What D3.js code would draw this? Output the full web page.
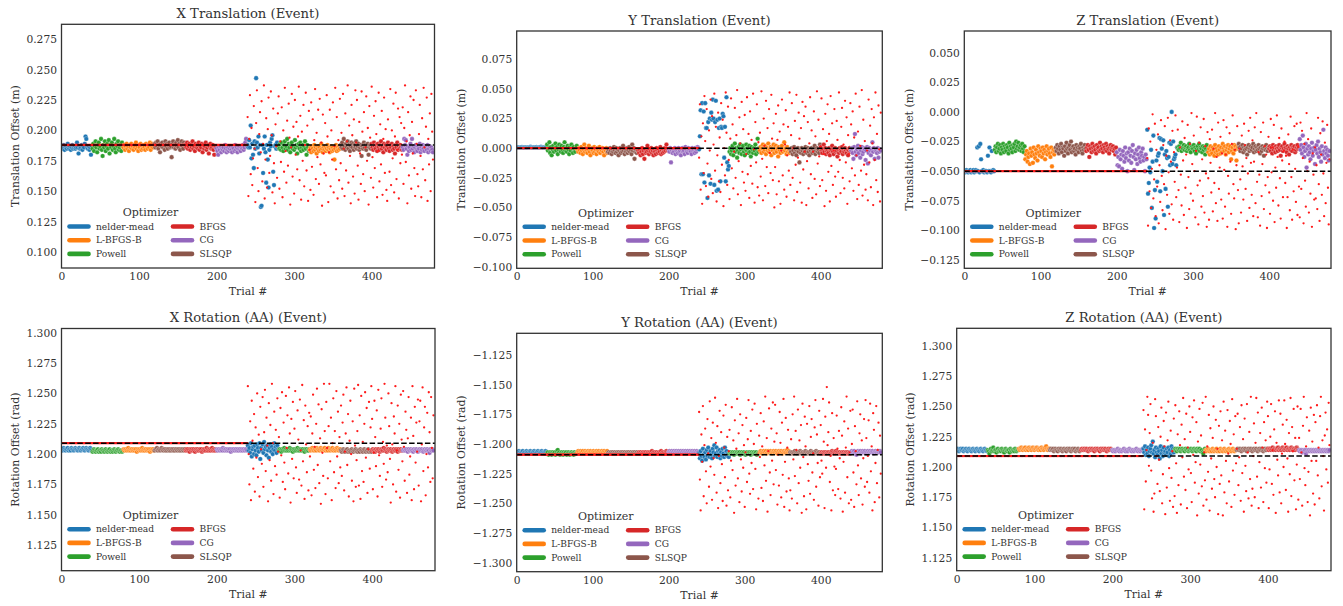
<!DOCTYPE html>
<html>
<head>
<meta charset="utf-8">
<script src="https://cdn.jsdelivr.net/npm/d3@7"></script>
<style>
  body { margin: 0; background: #fff; }
  svg { display: block; }
  text { font-family: "DejaVu Serif", serif; fill: #333; }
</style>
</head>
<body>
<svg id="chart" width="1343" height="606"></svg>
<script>
// Each optimizer runs a block of 40 trials; the sequence repeats twice (480 trials).
const runOrder = ["nelder-mead", "Powell", "L-BFGS-B", "SLSQP", "BFGS", "CG"];
const legendOrder = ["nelder-mead", "L-BFGS-B", "Powell", "BFGS", "CG", "SLSQP"];
const optimizerColor = {
  "nelder-mead": "#1f77b4", "L-BFGS-B": "#ff7f0e", "Powell": "#2ca02c",
  "BFGS": "#d62728", "CG": "#9467bd", "SLSQP": "#8c564b"
};
const trialRange = [0, 481];
const xTicks = [0, 100, 200, 300, 400];

// Tick labels per panel (m or rad)
const xTransTicks = [0.100, 0.125, 0.150, 0.175, 0.200, 0.225, 0.250, 0.275];
const yTransTicks = [-0.100, -0.075, -0.050, -0.025, 0.000, 0.025, 0.050, 0.075];
const zTransTicks = [-0.125, -0.100, -0.075, -0.050, -0.025, 0.000, 0.025, 0.050];
const xRotTicks = [1.125, 1.150, 1.175, 1.200, 1.225, 1.250, 1.275, 1.300];
const yRotTicks = [-1.300, -1.275, -1.250, -1.225, -1.200, -1.175, -1.150, -1.125];
const zRotTicks = [1.125, 1.150, 1.175, 1.200, 1.225, 1.250, 1.275, 1.300];

// Reference offsets (mm / mrad) used for trials 0-239 and drawn as the dashed line
const xTransRef = 188, yTransRef = 0, zTransRef = -50;
const xRotRef = 1209, yRotRef = -1209, zRotRef = 1209;

// Recovered offsets, one row per optimizer run (mm for translation, mrad for rotation)
const xTransFit = [
  [187,185,186,188,184,186,187,185,189,186,185,187,184,186,188,185,186,187,185,186,190,186,181,187,185,186,188,184,187,186,189,195,193,186,185,187,184,186,180,187],
  [185,189,183,187,191,186,182,188,190,185,187,193,184,179,188,186,191,183,187,189,185,192,181,188,186,190,184,187,193,185,182,189,187,191,184,186,188,183,190,187],
  [186,188,184,187,189,185,187,183,188,186,189,185,187,184,188,186,190,185,187,183,188,186,189,184,187,185,188,186,184,189,187,185,188,186,190,184,187,189,186,188],
  [189,186,190,187,191,185,188,182,189,187,190,186,188,184,191,187,189,185,188,190,186,187,178,189,191,186,188,185,190,187,192,186,189,184,188,191,187,185,190,188],
  [188,186,190,185,187,189,184,188,186,191,185,187,183,189,186,188,185,190,184,187,186,189,182,188,185,187,190,184,186,188,181,187,189,185,186,188,184,180,187,186],
  [185,183,180,186,184,187,182,185,184,186,183,188,185,182,184,186,183,185,187,184,182,186,185,183,188,184,186,182,185,187,184,183,186,185,188,184,186,190,193,187],
  [188,186,192,186,204,177,189,180,169,191,185,243,190,186,195,181,188,137,138,188,165,185,195,182,157,188,176,153,184,190,187,193,196,166,155,187,188,185,190,186],
  [187,185,189,184,190,186,183,188,191,185,187,193,184,189,186,182,188,190,185,187,184,192,186,188,181,187,189,185,190,183,186,188,184,187,191,185,180,188,186,183],
  [184,186,182,187,185,183,188,184,186,181,185,187,183,186,184,189,185,182,186,184,187,183,185,188,184,186,182,185,187,183,186,184,176,185,188,183,186,184,187,185],
  [188,186,190,185,193,187,184,189,186,191,185,188,183,187,190,186,189,184,188,186,191,185,187,189,184,186,188,179,187,185,190,186,188,184,187,189,180,186,188,185],
  [189,186,184,190,187,185,188,183,189,186,184,188,191,185,187,182,189,186,188,184,187,190,185,183,188,186,189,184,187,185,181,188,186,190,184,187,185,188,186,184],
  [186,184,193,188,192,185,180,187,183,186,189,184,193,185,187,182,186,188,184,183,187,185,189,182,186,184,188,185,183,187,186,184,188,182,185,187,183,186,184,182]
];
const yTransFit = [
  [0.5,0.7,0.6,0.8,0.5,0.6,0.7,0.9,0.6,0.5,0.7,0.8,0.6,0.7,0.5,0.6,0.8,0.7,1.2,0.9,0.6,0.7,0.5,0.8,0.6,0.7,0.9,0.6,0.5,0.7,0.8,0.6,1.1,0.7,0.6,0.5,0.8,0.7,0.6,0.9],
  [3,-2,0,5,-4,1,-6,-1,2,-3,0,4,-2,1,-5,-1,3,0,-3,2,-1,-4,1,5,-2,0,-3,2,-1,-5,1,-2,3,0,-4,1,-1,-3,0,2],
  [-1,-3,0,-2,-4,1,-2,-5,-1,3,-3,0,-2,-4,-1,2,-3,-6,-1,0,-2,-4,1,-3,-1,-5,0,-2,-3,1,-4,-1,-2,0,-3,-6,-1,-2,0,-4],
  [-3,-1,-4,0,-2,-5,-1,-3,1,-2,-4,0,-3,-1,-6,-2,0,-4,-1,-3,2,-2,-5,-1,-3,0,-4,-2,1,-3,-1,-5,3,-2,0,-9,-3,-1,-4,-2],
  [-2,-4,-1,-6,-3,0,-5,-2,-9,-1,-4,-3,2,-2,-5,-1,-3,0,-4,-2,-6,-1,-3,-5,0,-2,-4,-1,-3,1,-5,-2,-4,-1,-3,0,-2,3,-1,-2],
  [-1,-3,0,-12,-2,-4,-1,-3,0,-5,-2,-1,-4,0,-3,-2,-6,-1,0,-3,-2,-5,1,-1,-3,-4,0,-2,-1,-3,-5,0,-2,-1,-4,0,-3,-1,1,0],
  [-1,10,32,-22,38,-22,31,-29,38,17,17,-42,22,-23,25,-30,30,24,41,25,-31,22,40,-36,24,-35,17,25,-28,18,17,29,27,-8,18,-28,43,-12,-18,-15],
  [-3,0,-5,-2,2,-6,-1,4,-3,0,-8,-2,1,-4,3,-1,-5,0,2,-3,-6,-1,3,-2,0,-4,2,-3,-7,1,-1,-4,0,-2,3,-5,-1,8,-3,0],
  [-2,1,-4,0,3,-3,-1,2,-5,0,-2,4,-3,-1,1,-6,0,-2,3,-4,-1,2,-3,0,-7,1,-2,-4,0,2,-3,-1,5,-2,0,-5,1,-3,-1,-4],
  [-1,-3,0,-5,-2,1,-4,-1,-6,-2,0,-3,-12,-1,-4,0,-2,-5,-1,-3,1,-2,-4,0,-3,-6,-1,-2,0,-4,-1,-3,2,-5,-2,0,-3,-1,-4,3],
  [1,-2,-4,-1,3,-3,0,-5,-2,-1,-4,0,-6,-2,-1,2,-3,-5,-1,0,-3,-2,-7,-1,-4,0,-2,-3,1,-5,-1,-3,0,-2,-4,-1,-6,-2,0,-3],
  [-2,0,-4,-9,1,12,-3,-6,-1,2,-4,0,-8,-2,1,-5,-3,0,-1,-10,-2,1,-13,-4,0,-2,-6,-1,5,-3,0,-9,-2,-1,-4,0,-8,-3,-1,-2]
];
const zTransFit = [
  [-50,-51,-50,-49,-50,-51,-50,-50,-49,-51,-50,-50,-49,-51,-50,-49,-50,-30,-50,-29,-51,-27,-40,-50,-50,-49,-51,-50,-50,-50,-51,-37,-50,-30,-50,-51,-33,-50,-49,-50],
  [-32,-29,-34,-30,-27,-33,-31,-28,-35,-30,-32,-27,-34,-29,-31,-33,-28,-30,-35,-26,-32,-29,-31,-34,-28,-30,-27,-33,-25,-31,-29,-26,-32,-30,-28,-33,-27,-31,-34,-29],
  [-40,-36,-33,-42,-38,-35,-44,-31,-37,-34,-43,-30,-36,-39,-32,-35,-41,-29,-34,-37,-31,-33,-38,-30,-35,-32,-40,-34,-29,-36,-33,-31,-35,-38,-30,-46,-34,-32,-36,-33],
  [-30,-33,-28,-31,-35,-29,-32,-27,-34,-30,-31,-37,-29,-33,-26,-31,-35,-30,-28,-32,-25,-34,-30,-29,-33,-31,-36,-28,-32,-30,-34,-29,-31,-27,-33,-35,-30,-32,-28,-31],
  [-33,-30,-28,-32,-38,-29,-31,-34,-27,-30,-33,-29,-32,-35,-28,-31,-30,-33,-26,-32,-29,-31,-34,-28,-30,-32,-27,-33,-29,-31,-35,-30,-28,-32,-30,-29,-33,-31,-36,-30],
  [-34,-45,-38,-46,-32,-40,-36,-48,-33,-37,-42,-30,-39,-35,-50,-34,-41,-31,-37,-43,-33,-28,-38,-49,-35,-40,-32,-44,-36,-30,-39,-42,-34,-37,-31,-41,-38,-50,-36,-40],
  [-15,-69,-60,-47,-51,-32,-81,-42,-20,-98,-66,-90,-41,-59,-37,-35,-22,-67,-23,-31,-50,-24,-87,-36,-65,-33,-39,-80,-38,-26,-45,-27,0,-44,-25,-40,-38,-36,-45,-30],
  [-30,-32,-29,-31,-26,-33,-30,-31,-28,-32,-30,-29,-33,-31,-30,-27,-32,-34,-30,-29,-31,-28,-33,-30,-35,-31,-29,-32,-27,-33,-30,-31,-34,-29,-32,-30,-36,-31,-28,-33],
  [-34,-31,-36,-29,-33,-35,-30,-32,-37,-28,-34,-31,-33,-36,-29,-32,-35,-30,-34,-27,-31,-33,-29,-36,-32,-30,-28,-34,-31,-29,-40,-33,-30,-35,-28,-32,-29,-41,-31,-30],
  [-27,-30,-33,-29,-31,-28,-34,-30,-32,-29,-31,-36,-30,-28,-33,-31,-29,-32,-30,-27,-34,-31,-29,-33,-30,-32,-28,-31,-35,-30,-33,-29,-31,-37,-30,-32,-28,-31,-33,-30],
  [-31,-29,-33,-30,-35,-28,-32,-30,-34,-29,-31,-33,-30,-28,-32,-37,-30,-29,-33,-31,-27,-32,-30,-34,-29,-31,-36,-30,-32,-28,-33,-30,-31,-29,-34,-32,-30,-28,-31,-30],
  [-23,-32,-28,-35,-20,-30,-38,-33,-27,-47,-31,-36,-29,-34,-40,-31,-26,-37,-33,-30,-44,-32,-28,-35,-25,-38,-31,-34,-42,-29,-36,-15,-33,-39,-30,-35,-32,-37,-41,-33]
];
const xRotFit = [
  [1204,1203,1204,1205,1204,1203,1204,1204,1205,1203,1204,1204,1203,1205,1204,1204,1203,1204,1205,1204,1204,1203,1204,1205,1204,1203,1204,1204,1205,1204,1203,1204,1205,1204,1204,1203,1204,1205,1204,1203],
  [1202,1203,1204,1203,1202,1203,1203,1204,1202,1203,1203,1202,1204,1203,1203,1202,1203,1204,1203,1202,1203,1203,1204,1202,1203,1203,1202,1203,1204,1203,1202,1203,1203,1204,1203,1202,1203,1203,1202,1203],
  [1204,1203,1204,1204,1203,1204,1205,1203,1204,1203,1204,1204,1203,1204,1203,1204,1204,1202,1204,1203,1204,1204,1203,1204,1205,1203,1204,1203,1204,1204,1203,1204,1203,1204,1202,1204,1203,1204,1204,1203],
  [1203,1204,1204,1205,1203,1204,1204,1203,1204,1205,1204,1203,1204,1204,1203,1204,1203,1204,1204,1203,1204,1203,1204,1204,1203,1204,1203,1204,1204,1203,1204,1204,1203,1204,1203,1204,1204,1203,1204,1204],
  [1203,1204,1203,1204,1203,1202,1204,1203,1204,1203,1204,1203,1202,1204,1203,1204,1203,1203,1204,1203,1204,1202,1203,1204,1203,1204,1203,1205,1203,1204,1203,1204,1203,1204,1205,1203,1204,1203,1204,1203],
  [1204,1203,1204,1204,1203,1204,1204,1203,1205,1204,1203,1204,1204,1203,1204,1203,1204,1204,1202,1204,1203,1204,1204,1203,1204,1204,1203,1204,1203,1204,1204,1203,1204,1203,1204,1204,1203,1204,1204,1203],
  [1207,1203,1205,1201,1209,1198,1204,1206,1200,1207,1203,1199,1208,1205,1202,1209,1196,1205,1203,1208,1201,1210,1204,1206,1199,1207,1203,1197,1205,1208,1202,1206,1200,1204,1209,1203,1206,1201,1207,1204],
  [1203,1204,1203,1202,1204,1203,1204,1205,1203,1204,1203,1204,1203,1204,1205,1203,1204,1203,1202,1204,1203,1204,1203,1204,1205,1203,1204,1203,1204,1203,1204,1204,1203,1202,1204,1203,1204,1203,1203,1204],
  [1204,1203,1204,1205,1204,1203,1204,1204,1203,1205,1204,1204,1203,1204,1205,1204,1203,1204,1204,1205,1203,1204,1204,1203,1205,1204,1203,1204,1204,1205,1203,1204,1204,1203,1204,1205,1204,1203,1204,1204],
  [1203,1202,1203,1204,1203,1202,1203,1203,1204,1202,1203,1203,1202,1203,1204,1203,1202,1203,1203,1204,1203,1202,1203,1203,1202,1204,1203,1203,1202,1203,1204,1203,1202,1203,1203,1204,1202,1203,1203,1202],
  [1203,1204,1203,1203,1202,1204,1203,1203,1204,1203,1202,1203,1204,1203,1203,1205,1203,1204,1203,1202,1203,1204,1203,1203,1204,1203,1202,1203,1204,1203,1203,1204,1203,1202,1204,1203,1203,1204,1203,1203],
  [1203,1204,1203,1203,1204,1203,1202,1204,1203,1203,1204,1203,1203,1202,1204,1203,1203,1204,1203,1202,1203,1204,1203,1203,1204,1203,1202,1203,1204,1203,1203,1204,1203,1203,1201,1204,1203,1203,1204,1203]
];
const yRotFit = [
  [-1207,-1208,-1207,-1206,-1207,-1208,-1207,-1207,-1206,-1208,-1207,-1207,-1208,-1206,-1207,-1207,-1208,-1207,-1206,-1207,-1208,-1207,-1207,-1206,-1207,-1208,-1207,-1207,-1206,-1207,-1208,-1207,-1207,-1206,-1207,-1208,-1207,-1207,-1206,-1207],
  [-1208,-1207,-1209,-1208,-1207,-1208,-1209,-1207,-1208,-1208,-1207,-1209,-1208,-1206,-1205,-1208,-1207,-1209,-1208,-1207,-1208,-1209,-1207,-1208,-1208,-1207,-1209,-1208,-1207,-1208,-1209,-1208,-1207,-1208,-1208,-1209,-1207,-1208,-1208,-1207],
  [-1207,-1206,-1207,-1208,-1206,-1207,-1207,-1206,-1208,-1207,-1206,-1207,-1207,-1208,-1206,-1207,-1207,-1206,-1207,-1208,-1207,-1206,-1207,-1207,-1208,-1206,-1207,-1207,-1206,-1207,-1208,-1207,-1206,-1207,-1207,-1206,-1207,-1208,-1207,-1206],
  [-1208,-1207,-1208,-1208,-1207,-1208,-1207,-1208,-1208,-1207,-1208,-1208,-1207,-1208,-1207,-1208,-1208,-1207,-1208,-1207,-1208,-1208,-1207,-1208,-1208,-1207,-1208,-1207,-1208,-1208,-1207,-1208,-1208,-1207,-1208,-1207,-1208,-1208,-1207,-1208],
  [-1208,-1207,-1208,-1207,-1208,-1208,-1207,-1208,-1207,-1208,-1207,-1208,-1208,-1207,-1208,-1207,-1208,-1207,-1206,-1208,-1207,-1208,-1207,-1208,-1207,-1208,-1208,-1207,-1208,-1207,-1206,-1208,-1207,-1208,-1207,-1208,-1207,-1206,-1207,-1208],
  [-1207,-1206,-1207,-1207,-1206,-1207,-1207,-1206,-1207,-1207,-1206,-1207,-1207,-1206,-1207,-1207,-1206,-1207,-1207,-1206,-1207,-1207,-1206,-1207,-1207,-1206,-1207,-1207,-1206,-1207,-1207,-1206,-1207,-1207,-1206,-1207,-1207,-1206,-1207,-1207],
  [-1208,-1212,-1206,-1210,-1214,-1204,-1209,-1211,-1207,-1213,-1205,-1210,-1203,-1208,-1211,-1206,-1209,-1212,-1204,-1207,-1201,-1210,-1208,-1203,-1211,-1206,-1209,-1205,-1212,-1207,-1210,-1204,-1208,-1211,-1203,-1209,-1206,-1210,-1208,-1211],
  [-1208,-1207,-1208,-1208,-1207,-1208,-1209,-1207,-1208,-1208,-1207,-1208,-1208,-1207,-1209,-1208,-1207,-1208,-1208,-1207,-1208,-1209,-1208,-1207,-1208,-1208,-1207,-1208,-1209,-1207,-1208,-1208,-1207,-1208,-1208,-1207,-1209,-1208,-1208,-1207],
  [-1207,-1206,-1207,-1208,-1207,-1206,-1207,-1207,-1206,-1208,-1207,-1206,-1207,-1207,-1206,-1207,-1208,-1207,-1206,-1207,-1207,-1206,-1207,-1208,-1207,-1206,-1207,-1207,-1206,-1207,-1208,-1207,-1206,-1207,-1207,-1206,-1205,-1207,-1206,-1207],
  [-1207,-1208,-1207,-1207,-1208,-1207,-1206,-1207,-1208,-1207,-1207,-1208,-1207,-1206,-1207,-1208,-1207,-1207,-1208,-1207,-1206,-1207,-1208,-1207,-1207,-1208,-1207,-1206,-1207,-1208,-1207,-1207,-1208,-1207,-1206,-1207,-1208,-1207,-1207,-1208],
  [-1208,-1207,-1208,-1208,-1207,-1208,-1207,-1208,-1208,-1207,-1208,-1207,-1208,-1208,-1207,-1206,-1207,-1208,-1207,-1208,-1206,-1207,-1208,-1207,-1208,-1207,-1208,-1208,-1207,-1208,-1207,-1208,-1208,-1207,-1208,-1207,-1208,-1208,-1207,-1208],
  [-1207,-1206,-1207,-1207,-1206,-1208,-1207,-1209,-1207,-1206,-1207,-1207,-1206,-1208,-1207,-1206,-1207,-1207,-1206,-1207,-1208,-1207,-1206,-1207,-1207,-1206,-1207,-1207,-1206,-1207,-1208,-1207,-1206,-1207,-1207,-1206,-1207,-1207,-1206,-1207]
];
const zRotFit = [
  [1214,1215,1214,1213,1214,1215,1214,1214,1215,1213,1214,1214,1215,1214,1213,1214,1215,1214,1214,1213,1214,1215,1214,1214,1213,1214,1215,1214,1214,1213,1214,1215,1214,1214,1213,1214,1215,1214,1214,1213],
  [1214,1213,1211,1214,1215,1213,1214,1216,1213,1214,1214,1212,1214,1215,1213,1214,1214,1213,1215,1214,1213,1212,1214,1215,1214,1213,1214,1214,1212,1215,1214,1213,1214,1214,1213,1215,1214,1213,1214,1214],
  [1215,1214,1215,1216,1215,1214,1215,1215,1216,1214,1215,1215,1214,1216,1215,1215,1214,1215,1216,1215,1214,1215,1215,1216,1215,1214,1215,1215,1214,1216,1215,1215,1214,1215,1216,1217,1215,1214,1215,1215],
  [1214,1215,1214,1214,1215,1213,1214,1215,1214,1214,1213,1215,1214,1214,1215,1214,1213,1214,1215,1214,1214,1213,1215,1214,1214,1215,1214,1213,1214,1215,1214,1214,1215,1213,1214,1214,1215,1214,1213,1214],
  [1214,1215,1214,1214,1215,1214,1214,1215,1214,1213,1214,1215,1214,1214,1215,1214,1214,1213,1215,1214,1214,1215,1214,1214,1213,1215,1214,1214,1215,1214,1214,1215,1214,1213,1214,1215,1214,1214,1215,1214],
  [1214,1213,1214,1214,1213,1214,1214,1215,1214,1213,1214,1214,1213,1214,1214,1215,1214,1213,1214,1214,1213,1214,1215,1214,1214,1213,1214,1214,1213,1214,1214,1215,1214,1213,1214,1214,1213,1214,1214,1215],
  [1215,1212,1217,1210,1214,1211,1216,1209,1213,1215,1218,1212,1221,1211,1214,1208,1216,1212,1210,1215,1213,1207,1217,1211,1214,1209,1216,1212,1213,1210,1215,1212,1216,1209,1214,1211,1217,1213,1215,1212],
  [1214,1215,1214,1213,1215,1214,1214,1215,1213,1214,1215,1214,1214,1213,1215,1214,1214,1215,1213,1214,1214,1215,1214,1213,1214,1215,1214,1214,1213,1215,1214,1214,1215,1213,1214,1214,1212,1211,1214,1215],
  [1214,1213,1214,1215,1214,1213,1214,1214,1213,1215,1214,1213,1214,1214,1215,1213,1214,1214,1213,1215,1214,1214,1213,1214,1215,1214,1213,1214,1214,1213,1215,1214,1214,1213,1214,1215,1214,1213,1214,1214],
  [1214,1215,1214,1214,1215,1214,1213,1214,1215,1214,1214,1215,1214,1213,1214,1215,1214,1214,1215,1214,1213,1214,1215,1214,1214,1215,1214,1213,1214,1215,1214,1214,1215,1214,1213,1214,1215,1214,1214,1215],
  [1215,1214,1215,1215,1214,1215,1216,1214,1215,1215,1214,1215,1215,1216,1214,1215,1215,1214,1215,1216,1215,1214,1215,1215,1216,1214,1215,1215,1214,1215,1216,1215,1214,1215,1215,1214,1215,1216,1215,1214],
  [1214,1213,1214,1214,1212,1214,1213,1214,1214,1211,1214,1213,1214,1214,1213,1214,1214,1213,1214,1214,1213,1214,1214,1213,1214,1214,1213,1214,1214,1213,1214,1214,1213,1214,1214,1213,1214,1214,1213,1214]
];

// Event offsets for trials 240-479, 20 trials per row (mm / mrad)
const xTransEvent = [
  [211,146,193,229,164,202,155,177,220,185,141,206,233,169,150,197,215,182,224,158],
  [189,237,144,176,210,153,201,227,165,179,232,196,149,218,173,140,205,187,161,214],
  [228,152,191,174,219,145,200,166,235,183,157,208,171,222,194,139,186,230,162,203],
  [148,225,180,207,168,195,236,159,212,143,199,175,221,154,188,231,167,204,142,216],
  [184,151,223,170,209,147,192,234,160,198,178,217,156,226,172,190,138,213,181,165],
  [206,163,229,195,141,182,217,154,200,176,223,149,187,235,168,211,144,192,159,226],
  [173,198,152,230,185,146,214,167,191,237,157,204,179,140,221,196,162,209,148,233],
  [190,225,171,143,207,181,156,232,199,164,215,150,186,228,175,202,139,220,194,161],
  [236,178,153,212,169,224,197,145,183,231,158,205,172,216,147,193,227,165,201,151],
  [142,209,188,166,234,155,200,177,222,149,195,231,160,184,218,144,211,173,206,180],
  [219,156,202,237,174,191,140,215,163,196,228,152,207,181,225,169,146,233,189,164],
  [154,197,221,179,145,210,168,235,186,159,203,227,142,193,172,214,150,230,199,176]
];
const yTransEvent = [
  [-8,37,-35,10,-47,21,-21,44,6,-32,33,-13,-41,15,-2,41,-26,27,-38,3],
  [46,-19,18,-45,-6,30,-28,9,-37,38,-14,24,-49,0,-23,47,13,-31,35,-10],
  [-43,8,42,-17,20,-34,-3,34,-25,11,49,-39,-11,26,4,-48,39,-20,16,-29],
  [28,-36,-5,43,-22,12,-42,31,-15,7,-30,46,-1,-46,22,-12,37,-33,5,-40],
  [13,-24,48,-9,-44,25,2,-32,40,-16,17,-38,33,-4,-21,45,8,-27,21,-50],
  [-16,29,-39,7,36,-28,14,-47,-2,41,-23,20,-35,3,32,-41,-6,18,-19,47],
  [-31,11,38,-25,0,-44,23,-14,45,-37,-8,30,8,-29,17,-46,39,-18,27,-3],
  [35,-48,-11,22,-34,4,43,-22,15,-42,-3,31,-26,10,-39,48,-13,24,-7,-32],
  [1,42,-27,16,-5,-49,29,-36,6,37,-20,12,-45,44,-15,21,-31,-2,33,-24],
  [-41,23,7,-20,47,-10,-38,18,34,-25,3,-34,40,-12,26,-47,11,-5,-28,38],
  [20,-17,31,-36,9,-23,46,-6,-43,14,-31,35,2,-19,49,-40,24,-14,6,-35],
  [-22,-2,-44,41,-12,19,-33,33,4,-48,26,-10,47,-27,12,-37,36,-1,-45,30]
];
const zTransEvent = [
  [-39,-96,-14,-67,-25,-81,-48,-2,-73,-57,-10,-88,-32,-63,-19,-94,-45,-76,-7,-54],
  [-83,-28,-61,-12,-99,-37,-70,-5,-51,-86,-24,-42,-78,-16,-91,-34,-59,-3,-72,-47],
  [-15,-66,-93,-30,-53,-79,-8,-41,-87,-22,-64,-36,-98,-11,-55,-82,-27,-69,-1,-44],
  [-75,-20,-50,-89,-33,-4,-62,-95,-26,-58,-13,-80,-40,-71,-6,-85,-29,-52,-97,-17],
  [-56,-91,-23,-43,-68,-15,-84,-31,-60,-1,-77,-38,-92,-9,-65,-47,-21,-74,-35,-90],
  [-7,-49,-80,-36,-13,-97,-54,-69,-18,-42,-86,-27,-3,-61,-73,-32,-99,-45,-12,-66],
  [-94,-31,-57,-85,-20,-46,-74,-10,-28,-65,-39,-92,-52,-16,-81,-5,-43,-70,-24,-88],
  [-42,-13,-77,-1,-59,-89,-34,-53,-96,-17,-71,-44,-9,-82,-29,-62,-36,-98,-55,-21],
  [-68,-86,-6,-51,-30,-75,-11,-93,-47,-64,-3,-38,-79,-22,-56,-90,-14,-41,-72,-33],
  [-25,-60,-37,-98,-72,-19,-44,-83,-4,-55,-91,-32,-67,-12,-48,-76,-10,-87,-29,-63],
  [-89,-9,-65,-16,-39,-94,-27,-58,-80,-1,-50,-23,-85,-42,-69,-14,-97,-35,-53,-74],
  [-30,-73,-45,-82,-5,-61,-92,-18,-36,-70,-8,-52,-88,-26,-77,-43,-11,-64,-95,-40]
];
const xRotEvent = [
  [1256,1200,1175,1227,1162,1244,1211,1188,1233,1169,1222,1197,1250,1181,1216,1165,1239,1204,1192,1247],
  [1173,1218,1253,1186,1230,1207,1161,1242,1195,1224,1178,1258,1209,1167,1235,1190,1220,1183,1246,1202],
  [1214,1164,1238,1199,1251,1177,1226,1193,1171,1248,1205,1232,1184,1255,1217,1160,1229,1196,1243,1180],
  [1221,1252,1189,1168,1236,1212,1179,1245,1203,1174,1257,1194,1228,1163,1240,1208,1185,1223,1170,1234],
  [1198,1231,1166,1217,1249,1187,1206,1172,1225,1254,1191,1241,1176,1213,1159,1237,1201,1182,1258,1219],
  [1167,1243,1205,1180,1223,1258,1194,1230,1162,1209,1246,1185,1219,1172,1252,1198,1235,1176,1214,1189],
  [1240,1182,1226,1249,1170,1202,1217,1255,1191,1233,1165,1211,1244,1200,1178,1227,1161,1254,1207,1173],
  [1195,1219,1257,1174,1232,1163,1248,1186,1210,1177,1225,1251,1197,1238,1168,1204,1243,1188,1222,1256],
  [1229,1171,1201,1244,1214,1190,1236,1165,1253,1199,1182,1221,1246,1173,1210,1192,1258,1230,1179,1207],
  [1185,1250,1223,1196,1160,1242,1208,1175,1231,1217,1256,1169,1203,1240,1187,1225,1164,1249,1212,1194],
  [1252,1206,1178,1235,1220,1168,1213,1247,1183,1198,1230,1162,1256,1215,1171,1239,1193,1226,1202,1245],
  [1174,1227,1244,1161,1208,1255,1186,1222,1239,1166,1200,1234,1189,1251,1218,1177,1247,1205,1180,1232]
];
const yRotEvent = [
  [-1173,-1230,-1256,-1192,-1215,-1168,-1244,-1201,-1187,-1223,-1250,-1179,-1208,-1236,-1164,-1219,-1195,-1247,-1182,-1212],
  [-1226,-1161,-1199,-1241,-1185,-1254,-1210,-1172,-1233,-1190,-1217,-1248,-1176,-1203,-1228,-1167,-1252,-1194,-1239,-1206],
  [-1188,-1245,-1214,-1169,-1222,-1197,-1258,-1180,-1235,-1204,-1162,-1229,-1191,-1249,-1175,-1213,-1240,-1184,-1220,-1201],
  [-1253,-1207,-1178,-1232,-1196,-1163,-1225,-1242,-1189,-1216,-1171,-1238,-1200,-1166,-1221,-1255,-1183,-1209,-1246,-1193],
  [-1211,-1174,-1237,-1202,-1248,-1181,-1218,-1160,-1231,-1195,-1257,-1206,-1170,-1224,-1243,-1187,-1214,-1165,-1234,-1198],
  [-1167,-1222,-1191,-1251,-1209,-1235,-1173,-1199,-1245,-1182,-1226,-1162,-1253,-1215,-1178,-1240,-1203,-1188,-1229,-1256],
  [-1239,-1196,-1246,-1175,-1213,-1160,-1227,-1189,-1205,-1250,-1171,-1233,-1197,-1220,-1184,-1258,-1166,-1211,-1244,-1177],
  [-1202,-1255,-1183,-1217,-1231,-1168,-1242,-1194,-1179,-1224,-1208,-1247,-1186,-1163,-1236,-1192,-1216,-1252,-1172,-1228],
  [-1184,-1214,-1225,-1162,-1198,-1254,-1177,-1220,-1152,-1201,-1190,-1165,-1232,-1210,-1256,-1174,-1239,-1195,-1219,-1243],
  [-1221,-1176,-1204,-1238,-1189,-1212,-1246,-1169,-1193,-1257,-1215,-1181,-1241,-1203,-1160,-1228,-1187,-1250,-1207,-1172],
  [-1247,-1200,-1171,-1224,-1253,-1185,-1206,-1234,-1164,-1218,-1243,-1191,-1175,-1229,-1197,-1251,-1212,-1179,-1236,-1163],
  [-1195,-1232,-1210,-1180,-1241,-1166,-1223,-1202,-1256,-1174,-1188,-1249,-1216,-1168,-1233,-1205,-1182,-1245,-1193,-1225]
];
const zRotEvent = [
  [1247,1165,1231,1188,1214,1258,1243,1201,1228,1252,1197,1174,1220,1163,1178,1256,1242,1209,1186,1233],
  [1206,1180,1225,1249,1170,1194,1238,1217,1161,1245,1183,1222,1254,1199,1172,1230,1191,1213,1167,1240],
  [1176,1251,1203,1162,1227,1185,1246,1218,1169,1235,1208,1257,1192,1223,1181,1244,1166,1216,1198,1250],
  [1229,1195,1171,1241,1210,1255,1187,1204,1237,1160,1221,1178,1248,1202,1226,1184,1253,1168,1212,1189],
  [1258,1173,1217,1196,1243,1164,1232,1207,1182,1224,1250,1190,1175,1239,1200,1215,1161,1234,1186,1246],
  [1193,1222,1160,1254,1179,1230,1205,1170,1247,1211,1188,1238,1219,1167,1256,1197,1227,1177,1242,1203],
  [1215,1244,1185,1208,1233,1172,1251,1195,1223,1163,1240,1201,1180,1252,1212,1174,1229,1190,1258,1168],
  [1182,1209,1236,1175,1220,1257,1192,1245,1166,1204,1228,1183,1249,1216,1171,1237,1199,1222,1187,1254],
  [1242,1166,1198,1225,1252,1186,1214,1177,1231,1246,1162,1220,1206,1193,1255,1179,1244,1170,1211,1235],
  [1200,1255,1219,1181,1239,1207,1163,1228,1194,1257,1176,1233,1213,1248,1189,1224,1165,1202,1250,1173],
  [1224,1190,1248,1212,1168,1234,1258,1199,1185,1217,1241,1171,1196,1230,1160,1249,1205,1221,1178,1243],
  [1169,1237,1205,1251,1193,1216,1174,1242,1258,1184,1222,1209,1164,1226,1245,1198,1231,1187,1253,1218]
];

// Panel layout: axes frame [left, top, right, bottom] in px and y-limits in m / rad
const panels = [
  { title: "X Translation (Event)", ylabel: "Translation Offset (m)", fit: xTransFit, event: xTransEvent,
    ref: xTransRef, ticks: xTransTicks, ylim: [0.0868, 0.2873], box: [61.5, 24.3, 434.5, 268] },
  { title: "Y Translation (Event)", ylabel: "Translation Offset (m)", fit: yTransFit, event: yTransEvent,
    ref: yTransRef, ticks: yTransTicks, ylim: [-0.1014, 0.0989], box: [516.7, 31, 882.3, 268.3] },
  { title: "Z Translation (Event)", ylabel: "Translation Offset (m)", fit: zTransFit, event: zTransEvent,
    ref: zTransRef, ticks: zTransTicks, ylim: [-0.132, 0.0683], box: [964.3, 31, 1331, 268.3] },
  { title: "X Rotation (AA) (Event)", ylabel: "Rotation Offset (rad)", fit: xRotFit, event: xRotEvent,
    ref: xRotRef, ticks: xRotTicks, ylim: [1.1038, 1.3036], box: [61.5, 328.5, 435, 570.7] },
  { title: "Y Rotation (AA) (Event)", ylabel: "Rotation Offset (rad)", fit: yRotFit, event: yRotEvent,
    ref: yRotRef, ticks: yRotTicks, ylim: [-1.3076, -1.1067], box: [516.7, 333.3, 882.3, 571.7] },
  { title: "Z Rotation (AA) (Event)", ylabel: "Rotation Offset (rad)", fit: zRotFit, event: zRotEvent,
    ref: zRotRef, ticks: zRotTicks, ylim: [1.1143, 1.3146], box: [956.7, 328.3, 1331, 570.7] }
];

const milli = 1e-3;
const svg = d3.select("#chart");
const fmt = d3.format(".3f");

panels.forEach((p, k) => {
  const [x0, y0, x1, y1] = p.box;
  const x = d3.scaleLinear().domain(trialRange).range([x0, x1]);
  const y = d3.scaleLinear().domain(p.ylim).range([y1, y0]);
  const g = svg.append("g");

  g.append("clipPath").attr("id", "clip" + k)
    .append("rect").attr("x", x0).attr("y", y0).attr("width", x1 - x0).attr("height", y1 - y0);
  const plot = g.append("g").attr("clip-path", `url(#clip${k})`);

  // recovered offsets, coloured by the optimizer of each run
  let trial = 0;
  const fits = [];
  p.fit.forEach((run, r) => {
    const optimizer = runOrder[r % runOrder.length];
    run.forEach(v => fits.push({ trial: trial++, value: v * milli, optimizer }));
  });
  plot.selectAll("circle.fit").data(fits).join("circle")
    .attr("class", "fit")
    .attr("cx", d => x(d.trial)).attr("cy", d => y(d.value)).attr("r", 2.3)
    .attr("fill", d => optimizerColor[d.optimizer])
    .attr("stroke", "#fff").attr("stroke-width", 0.3);

  // applied event offsets: fixed reference for the first half, varied afterwards
  const eventValues = p.event.flat();
  const firstEvent = fits.length - eventValues.length;
  const events = fits.map((f, i) => ({
    trial: f.trial,
    value: (i < firstEvent ? p.ref : eventValues[i - firstEvent]) * milli
  }));
  plot.selectAll("circle.event").data(events).join("circle")
    .attr("class", "event")
    .attr("cx", d => x(d.trial)).attr("cy", d => y(d.value)).attr("r", 1.15)
    .attr("fill", "#ff1a1a");

  // reference offset
  plot.append("line")
    .attr("x1", x0).attr("x2", x1)
    .attr("y1", y(p.ref * milli)).attr("y2", y(p.ref * milli))
    .attr("stroke", "#000").attr("stroke-width", 1.5).attr("stroke-dasharray", "5.5,2.4");

  // frame
  g.append("rect").attr("x", x0).attr("y", y0).attr("width", x1 - x0).attr("height", y1 - y0)
    .attr("fill", "none").attr("stroke", "#333").attr("stroke-width", 1.3);

  // axes
  const yAxis = g.append("g").attr("transform", `translate(${x0},0)`)
    .call(d3.axisLeft(y).tickValues(p.ticks).tickFormat(fmt).tickSize(0).tickPadding(4.5));
  const xAxis = g.append("g").attr("transform", `translate(0,${y1})`)
    .call(d3.axisBottom(x).tickValues(xTicks).tickFormat(d3.format("d")).tickSize(0).tickPadding(4.5));
  [yAxis, xAxis].forEach(a => {
    a.select(".domain").remove();
    a.selectAll("text").attr("fill", "#333").style("font-family", "'DejaVu Serif', serif").style("font-size", "10.7px");
  });

  let maxW = 0;
  yAxis.selectAll("text").each(function () { maxW = Math.max(maxW, this.getComputedTextLength()); });

  // titles and labels
  g.append("text").attr("x", (x0 + x1) / 2).attr("y", y0 - 6.5)
    .attr("text-anchor", "middle").style("font-size", "13.2px").text(p.title);
  g.append("text").attr("x", (x0 + x1) / 2).attr("y", y1 + 27)
    .attr("text-anchor", "middle").style("font-size", "10.9px").text("Trial #");
  g.append("text")
    .attr("transform", `translate(${x0 - 4.5 - maxW - 11},${(y0 + y1) / 2}) rotate(-90)`)
    .attr("text-anchor", "middle").attr("dy", "0.35em").style("font-size", "10.9px").text(p.ylabel);

  // legend
  const leg = g.append("g").attr("transform", `translate(${x0},${y1})`);
  leg.append("text").attr("x", 89).attr("y", -55.5).attr("dy", "0.35em")
    .attr("text-anchor", "middle").style("font-size", "11px").text("Optimizer");
  legendOrder.forEach((name, i) => {
    const col = Math.floor(i / 3), row = i % 3;
    const ly = -41.5 + row * 13.7;
    const lx = col === 0 ? 6.5 : 110;
    leg.append("line").attr("x1", lx + 1.5).attr("x2", lx + 20.5).attr("y1", ly).attr("y2", ly)
      .attr("stroke", optimizerColor[name]).attr("stroke-width", 4.6).attr("stroke-linecap", "round");
    leg.append("text").attr("x", lx + 28).attr("y", ly).attr("dy", "0.35em")
      .style("font-size", "9.1px").text(name);
  });
});
</script>
</body>
</html>
